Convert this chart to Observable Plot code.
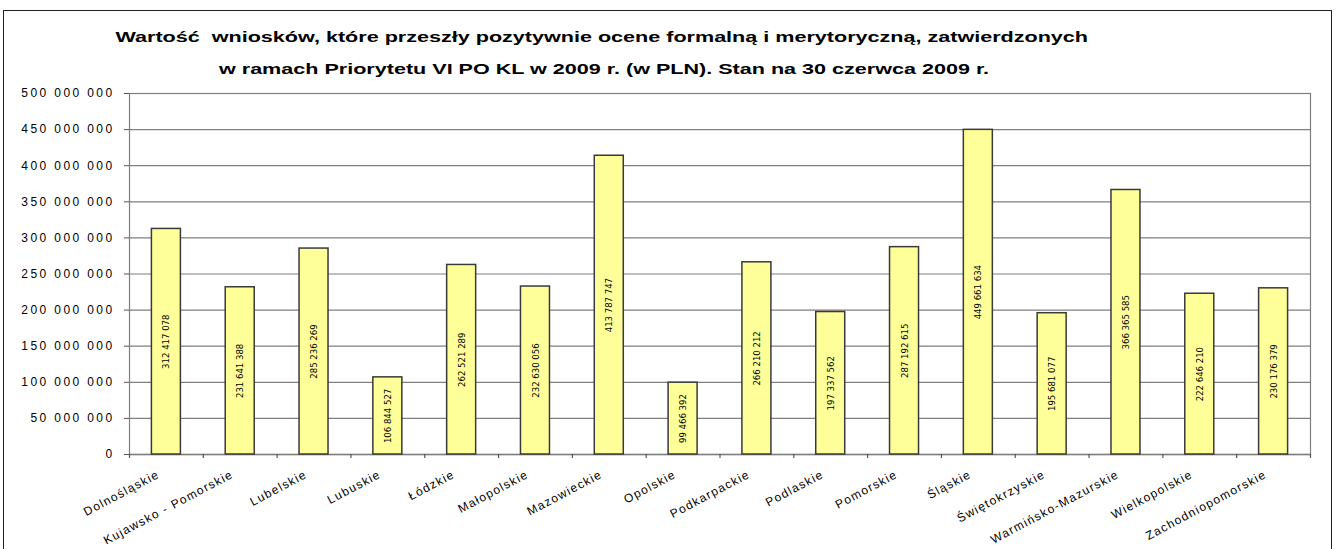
<!DOCTYPE html>
<html>
<head>
<meta charset="utf-8">
<script src="https://cdn.jsdelivr.net/npm/d3@7"></script>
<script src="https://cdn.jsdelivr.net/npm/@observablehq/plot@0.6"></script>
<style>
  html, body { margin: 0; padding: 0; background: #fff; overflow: hidden; }
  #wrap { position: relative; width: 1338px; height: 549px; }
  #border { position: absolute; left: 3px; top: 10px; width: 1329px; height: 600px; border: 1.5px solid #222; box-sizing: border-box; pointer-events: none; }
  #title { position: relative; height: 80px; font-family: "Liberation Sans", Arial, sans-serif; font-weight: bold; font-size: 14px; color: #000; }
  #title div { position: absolute; left: 0; width: 1338px; text-align: center; white-space: pre; }
  #title span { display: inline-block; transform: scaleX(1.54); transform-origin: center; }
  #t1 { top: 29px; margin-left: -67px; }
  #t2 { top: 61px; margin-left: -65px; }
  svg [aria-label="y-axis tick label"] text { letter-spacing: 2.4px; }
</style>
</head>
<body>
<div id="wrap">
  <div id="title">
    <div id="t1"><span>Wartość  wniosków, które przeszły pozytywnie ocene formalną i merytoryczną, zatwierdzonych</span></div>
    <div id="t2"><span>w ramach Priorytetu VI PO KL w 2009 r. (w PLN). Stan na 30 czerwca 2009 r.</span></div>
  </div>
  <div id="chart"></div>
  <div id="border"></div>
</div>
<script>
const regions = ["Dolnośląskie", "Kujawsko - Pomorskie", "Lubelskie", "Lubuskie", "Łódzkie", "Małopolskie", "Mazowieckie", "Opolskie", "Podkarpackie", "Podlaskie", "Pomorskie", "Śląskie", "Świętokrzyskie", "Warmińsko-Mazurskie", "Wielkopolskie", "Zachodniopomorskie"];
const values = [312417078, 231641388, 285236269, 106844527, 262521289, 232630056, 413787747, 99466392, 266210212, 197337562, 287192615, 449661634, 195681077, 366365585, 222646210, 230176379];
const yTicks = [0, 50000000, 100000000, 150000000, 200000000, 250000000, 300000000, 350000000, 400000000, 450000000, 500000000];

const data = regions.map((r, i) => ({region: r, value: values[i]}));
const fmt = v => d3.format(",")(v).replace(/,/g, " ");

const W = 1338, H = 469, ML = 129, MR = 28, MT = 13, MB = 95;
const bw = (W - ML - MR) / regions.length;
const barW = 29;

const chart = Plot.plot({
  width: W,
  height: H,
  marginLeft: ML,
  marginRight: MR,
  marginTop: MT,
  marginBottom: MB,
  style: {fontFamily: "'Liberation Sans', Arial, sans-serif", background: "white", overflow: "visible"},
  x: {domain: regions, padding: 0, round: false, axis: null},
  y: {domain: [0, 500000000], ticks: yTicks, tickFormat: fmt, tickSize: 5, tickPadding: 12, label: null},
  marks: [
    Plot.gridY(yTicks, {stroke: "#7f7f7f", strokeOpacity: 1, strokeWidth: 1.2}),
    Plot.frame({stroke: "#7f7f7f", strokeWidth: 1.2}),
    Plot.axisY({ticks: yTicks, tickFormat: fmt, tickSize: 5, tickPadding: 10, fontSize: 12, stroke: "#555", color: "#000", label: null}),
    Plot.ruleY([0], {stroke: "#7f7f7f", strokeWidth: 1.5}),
    Plot.ruleX(regions, {x: d => d, y1: 0, y2: -5500000, dx: -bw / 2, stroke: "#555", strokeWidth: 1.2}),
    Plot.ruleX(regions.slice(-1), {x: d => d, y1: 0, y2: -5500000, dx: bw / 2, stroke: "#555", strokeWidth: 1.2}),
    Plot.barY(data, {x: "region", y: "value", fill: "#FFFF99", stroke: "#3a3a3a", strokeWidth: 1.5, insetLeft: (bw - barW) / 2, insetRight: (bw - barW) / 2}),
    Plot.text(data, {x: "region", y: d => d.value / 2, text: d => fmt(d.value), rotate: -90, fontSize: 9.5, fontFamily: "'Liberation Sans Narrow', 'DejaVu Sans Condensed', Arial, sans-serif", fill: "#000"}),
    Plot.text(regions, {x: d => d, y: 0, text: d => d, rotate: -28, textAnchor: "end", dx: -8, dy: 19, fontSize: 12, fill: "#000"})
  ]
});
document.getElementById("chart").appendChild(chart);
d3.select(chart).selectAll('g[aria-label="text"]').filter((d, i) => i === 1).selectAll("text").style("letter-spacing", "1.3px");
</script>
</body>
</html>
